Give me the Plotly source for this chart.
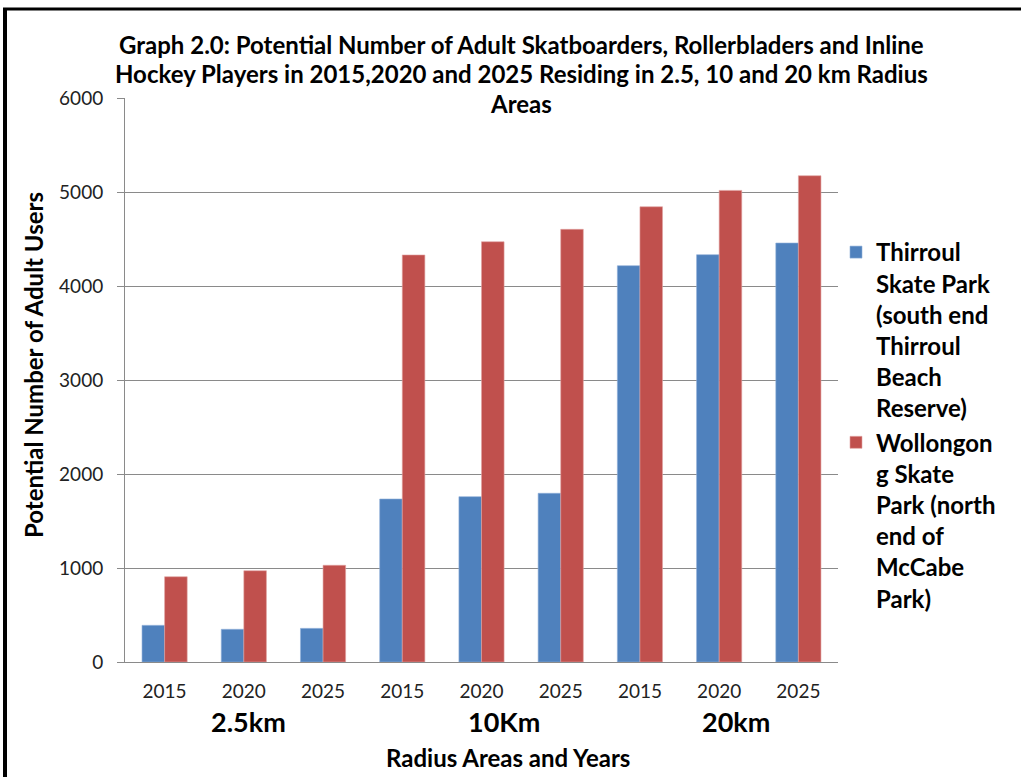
import plotly.graph_objects as go

# ---- data -------------------------------------------------------------
years = ["2015", "2020", "2025", "2015", "2020", "2025", "2015", "2020", "2025"]
radius_groups = ["2.5km", "10Km", "20km"]
thirroul = [390, 348, 358, 1734, 1759, 1795, 4216, 4333, 4457]
wollongong = [907, 971, 1029, 4330, 4471, 4603, 4843, 5017, 5173]

series_names = [
    "<b>Thirroul<br>Skate Park<br>(south end<br>Thirroul<br>Beach<br>Reserve)</b>",
    "<b>Wollongon<br>g Skate<br>Park (north<br>end of<br>McCabe<br>Park)</b>",
]
title_lines = [
    "Graph 2.0: Potential Number of Adult Skatboarders, Rollerbladers and Inline",
    "Hockey Players in 2015,2020 and 2025 Residing in 2.5, 10 and 20 km Radius",
    "Areas",
]
y_title = "Potential Number of Adult Users"
x_title = "Radius Areas and Years"

# ---- geometry helpers (pixel -> paper) --------------------------------
W, H = 1021, 777
L, R, T, B = 125, 838, 98, 662


def px(x):
    return (x - L) / (R - L)


def py(y):
    return (B - y) / (B - T)


FONT = "Lato"
BLUE = "#4F81BD"
RED = "#C0504D"
GRID = "#8A8A8A"

xs = list(range(len(years)))

fig = go.Figure()
fig.add_trace(go.Bar(x=xs, y=thirroul, name=series_names[0],
                     marker=dict(color=BLUE, line=dict(color="#8FAFD8", width=0.6))))
fig.add_trace(go.Bar(x=xs, y=wollongong, name=series_names[1],
                     marker=dict(color=RED, line=dict(color="#E0A3A1", width=0.6))))

annotations = []
# title, one line per annotation
for i, (line, yy) in enumerate(zip(title_lines, [44, 74, 104])):
    annotations.append(dict(text=f"<b>{line}</b>", x=px(521), y=py(yy), xref="paper", yref="paper",
                            xanchor="center", yanchor="middle", showarrow=False,
                            font=dict(family=FONT, size=24, color="#000")))
# radius group labels under the years
for lab, cx in zip(radius_groups, [1.06, 4.28, 7.21]):
    annotations.append(dict(text=f"<b>{lab}</b>", x=cx, y=py(721), xref="x", yref="paper",
                            xanchor="center", yanchor="middle", showarrow=False,
                            font=dict(family=FONT, size=27, color="#000")))
# axis titles
annotations.append(dict(text=f"<b>{x_title}</b>", x=px(508), y=py(757), xref="paper", yref="paper",
                        xanchor="center", yanchor="middle", showarrow=False,
                        font=dict(family=FONT, size=24, color="#000")))
annotations.append(dict(text=f"<b>{y_title}</b>", x=px(33), y=py(365), xref="paper", yref="paper",
                        xanchor="center", yanchor="middle", showarrow=False, textangle=-90,
                        font=dict(family=FONT, size=24, color="#000")))

shapes = [
    # outer frame: left and top edges
    dict(type="line", xref="paper", yref="paper", x0=px(5), x1=px(5), y0=py(8), y1=py(H + 5),
         line=dict(color="black", width=4)),
    dict(type="line", xref="paper", yref="paper", x0=px(3), x1=px(W + 5), y0=py(9), y1=py(9),
         line=dict(color="black", width=3)),
]

fig.update_layout(
    width=W, height=H,
    margin=dict(l=L, r=W - R, t=T, b=H - B),
    paper_bgcolor="white", plot_bgcolor="white",
    barmode="group", bargap=0.43, bargroupgap=0,
    font=dict(family=FONT, color="#222"),
    annotations=annotations,
    shapes=shapes,
    legend=dict(x=px(836), y=py(230), xanchor="left", yanchor="top",
                valign="top", font=dict(family=FONT, size=24, color="#000"),
                bgcolor="rgba(0,0,0,0)"),
    xaxis=dict(range=[-0.5, len(years) - 0.5], tickvals=xs, ticktext=years,
               showgrid=False, showline=True, linecolor=GRID, linewidth=1,
               ticks="", tickfont=dict(family=FONT, size=19, color="#222"),
               ticklabelstandoff=12, zeroline=False),
    yaxis=dict(range=[0, 6000], dtick=1000, showgrid=True, gridcolor=GRID, gridwidth=1,
               showline=True, linecolor=GRID, linewidth=1, ticks="outside", ticklen=7,
               tickcolor=GRID, tickfont=dict(family=FONT, size=19, color="#222"),
               ticklabelstandoff=10, zeroline=False),
)

fig.write_html("out.html")
